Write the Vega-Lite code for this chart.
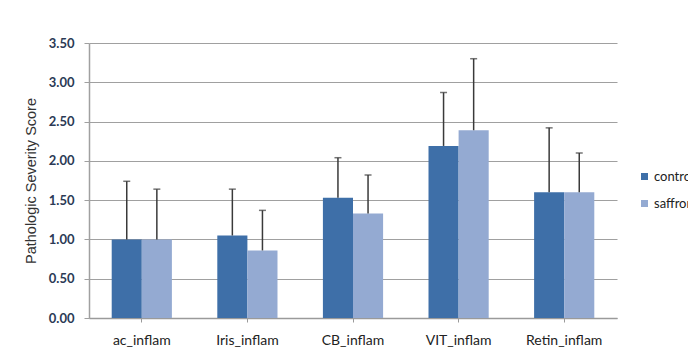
{
  "$schema": "https://vega.github.io/schema/vega-lite/v6.json",
  "width": 528,
  "height": 275,
  "autosize": "none",
  "padding": {"left": 89, "top": 43, "right": 71, "bottom": 43},
  "background": "white",
  "config": {
    "view": {"stroke": null},
    "font": "Lato",
    "axisY": {
      "titleFont": "Liberation Sans",
      "titleFontSize": 14.5,
      "titleFontWeight": "normal",
      "titleColor": "#333333",
      "titlePadding": 10,
      "tickCount": 7,
      "labelOverlap": false,
      "format": ".2f",
      "labelFont": "Lato",
      "labelFontSize": 13,
      "labelFontWeight": "bold",
      "labelColor": "#2b3a55",
      "tickSize": 5,
      "labelPadding": 10,
      "grid": true,
      "gridColor": "#a0a0a0",
      "gridWidth": 1.2,
      "domainColor": "#a0a0a0",
      "domainWidth": 1.5,
      "tickColor": "#a0a0a0"
    }
  },
  "data": {
    "values": [
      {"category": "ac_inflam", "group": "control", "mean": 1.00, "upper": 1.74},
      {"category": "ac_inflam", "group": "saffron", "mean": 1.00, "upper": 1.64},
      {"category": "Iris_inflam", "group": "control", "mean": 1.05, "upper": 1.64},
      {"category": "Iris_inflam", "group": "saffron", "mean": 0.86, "upper": 1.37},
      {"category": "CB_inflam", "group": "control", "mean": 1.53, "upper": 2.04},
      {"category": "CB_inflam", "group": "saffron", "mean": 1.33, "upper": 1.82},
      {"category": "VIT_inflam", "group": "control", "mean": 2.19, "upper": 2.87},
      {"category": "VIT_inflam", "group": "saffron", "mean": 2.39, "upper": 3.30},
      {"category": "Retin_inflam", "group": "control", "mean": 1.60, "upper": 2.42},
      {"category": "Retin_inflam", "group": "saffron", "mean": 1.60, "upper": 2.10}
    ]
  },
  "encoding": {
    "x": {
      "field": "category",
      "type": "nominal",
      "sort": ["ac_inflam", "Iris_inflam", "CB_inflam", "VIT_inflam", "Retin_inflam"],
      "scale": {"paddingInner": 0.43, "paddingOuter": 0.215},
      "axis": {
        "title": null,
        "labelAngle": 0,
        "labelFont": "Lato",
        "labelFontSize": 14,
        "labelColor": "#222222",
        "tickSize": 4,
        "labelPadding": 11,
        "domainColor": "#9a9a9a",
        "tickColor": "#9a9a9a",
        "domainWidth": 1.5
      }
    },
    "xOffset": {"field": "group", "type": "nominal", "sort": ["control", "saffron"]},
    "y": {
      "field": "mean",
      "type": "quantitative",
      "title": "Pathologic Severity Score",
      "scale": {"domain": [0, 3.5], "nice": false}
    }
  },
  "layer": [
    {
      "mark": {"type": "bar"},
      "encoding": {
        "color": {
          "field": "group",
          "type": "nominal",
          "scale": {"domain": ["control", "saffron"], "range": ["#3e6fa8", "#94aad2"]},
          "legend": {
            "title": null,
            "orient": "none",
            "legendX": 549,
            "legendY": 127,
            "symbolType": "square",
            "symbolSize": 49,
            "symbolStrokeWidth": 0,
            "labelFont": "Lato",
            "labelFontSize": 13,
            "labelColor": "#222222",
            "labelOffset": 3,
            "rowPadding": 13,
            "padding": 0
          }
        }
      }
    },
    {
      "mark": {"type": "rule", "color": "#3a3a3a", "strokeWidth": 1.5},
      "encoding": {
        "y2": {"field": "upper"}
      }
    },
    {
      "mark": {"type": "tick", "color": "#3a3a3a", "thickness": 1.5, "size": 7, "orient": "horizontal"},
      "encoding": {
        "y": {"field": "upper", "type": "quantitative", "title": "Pathologic Severity Score"}
      }
    }
  ]
}
